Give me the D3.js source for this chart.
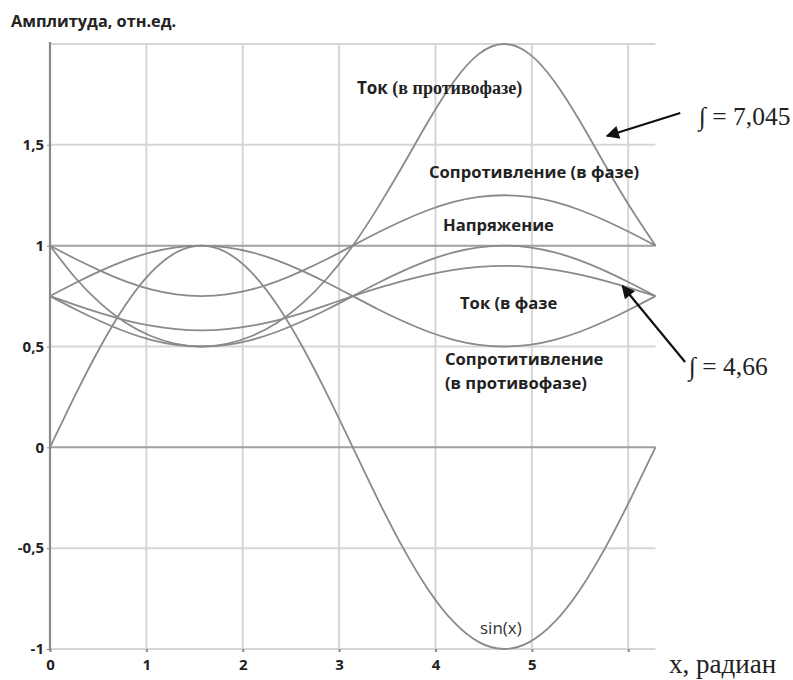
<!DOCTYPE html>
<html>
<head>
<meta charset="utf-8">
<script src="https://cdn.jsdelivr.net/npm/d3@7"></script>
<style>
  html, body { margin: 0; padding: 0; background: #fff; }
  svg { display: block; }
</style>
</head>
<body>
<svg id="chart" width="793" height="680"></svg>
<script>
// Sample points over one period, x in radians (k·π/12)
const xs = [0, 0.262, 0.524, 0.785, 1.047, 1.309, 1.571, 1.833, 2.094, 2.356, 2.618, 2.880,
            3.142, 3.403, 3.665, 3.927, 4.189, 4.451, 4.712, 4.974, 5.236, 5.498, 5.760, 6.021, 6.283];

const sinX = [0, 0.259, 0.5, 0.707, 0.866, 0.966, 1, 0.966, 0.866, 0.707, 0.5, 0.259,
              0, -0.259, -0.5, -0.707, -0.866, -0.966, -1, -0.966, -0.866, -0.707, -0.5, -0.259, 0];

const voltage = [0.75, 0.685, 0.625, 0.573, 0.533, 0.508, 0.5, 0.508, 0.533, 0.573, 0.625, 0.685,
                 0.75, 0.815, 0.875, 0.927, 0.967, 0.992, 1.0, 0.992, 0.967, 0.927, 0.875, 0.815, 0.75];

const resistInPhase = [1.0, 0.935, 0.875, 0.823, 0.783, 0.758, 0.75, 0.758, 0.783, 0.823, 0.875, 0.935,
                       1.0, 1.065, 1.125, 1.177, 1.217, 1.242, 1.25, 1.242, 1.217, 1.177, 1.125, 1.065, 1.0];

const resistAntiPhase = [0.75, 0.815, 0.875, 0.927, 0.967, 0.992, 1.0, 0.992, 0.967, 0.927, 0.875, 0.815,
                         0.75, 0.685, 0.625, 0.573, 0.533, 0.508, 0.5, 0.508, 0.533, 0.573, 0.625, 0.685, 0.75];

const currentAntiPhase = [1.0, 0.841, 0.714, 0.618, 0.552, 0.513, 0.5, 0.513, 0.552, 0.618, 0.714, 0.841,
                          1.0, 1.190, 1.4, 1.618, 1.813, 1.951, 2.0, 1.951, 1.813, 1.618, 1.4, 1.190, 1.0];

const currentInPhase = [0.75, 0.706, 0.665, 0.63, 0.603, 0.586, 0.58, 0.586, 0.603, 0.63, 0.665, 0.706,
                        0.75, 0.789, 0.825, 0.856, 0.880, 0.895, 0.90, 0.895, 0.880, 0.856, 0.825, 0.789, 0.75];

const xTicks = [0, 1, 2, 3, 4, 5, 6];
const xTickLabels = ["0", "1", "2", "3", "4", "5", ""];
const yTicks = [-1, -0.5, 0, 0.5, 1, 1.5];
const yTickLabels = ["-1", "-0,5", "0", "0,5", "1", "1,5"];
const yGrid = [-0.5, 0.5, 1.5, 2];
const yGridStrong = [0, 1];

const integralAnti = "7,045";
const integralIn = "4,66";

const svg = d3.select("#chart");
const plotLeft = 50, plotRight = 655.5, plotTop = 44, plotBottom = 649;

const x = d3.scaleLinear().domain([0, 2 * Math.PI]).range([plotLeft, plotRight]);
const y = d3.scaleLinear().domain([-1, 2]).range([plotBottom, plotTop]);

const grey = "#8a8a8a";
const grid = "#d6d6d6";

// grid
const g = svg.append("g");
g.selectAll("line.vg").data(xTicks.filter(d => d > 0)).join("line")
  .attr("x1", d => x(d)).attr("x2", d => x(d))
  .attr("y1", y(2)).attr("y2", y(-1))
  .attr("stroke", grid).attr("stroke-width", 2);
g.selectAll("line.hg").data(yGrid).join("line")
  .attr("x1", plotLeft).attr("x2", plotRight)
  .attr("y1", d => y(d)).attr("y2", d => y(d))
  .attr("stroke", grid).attr("stroke-width", 2);
g.append("line").attr("x1", plotLeft).attr("x2", plotRight)
  .attr("y1", y(-1)).attr("y2", y(-1))
  .attr("stroke", grid).attr("stroke-width", 2);
g.selectAll("line.hs").data(yGridStrong).join("line")
  .attr("x1", plotLeft).attr("x2", plotRight)
  .attr("y1", d => y(d)).attr("y2", d => y(d))
  .attr("stroke", "#a0a0a0").attr("stroke-width", 2);

const sans = "'Open Sans', sans-serif";
const serif = "'Liberation Serif', 'Times New Roman', serif";

// axes
const yAxis = d3.axisLeft(y).tickValues(yTicks).tickSize(3).tickPadding(3)
  .tickFormat((d, i) => yTickLabels[i]);
const ya = svg.append("g").attr("transform", `translate(${plotLeft},0)`).call(yAxis);
ya.select(".domain").remove();
ya.selectAll(".tick line").attr("stroke", "#888");
ya.selectAll("text").attr("font-family", sans).attr("font-size", 15)
  .attr("font-weight", 700).attr("fill", "#222");
svg.append("line").attr("x1", plotLeft).attr("x2", plotLeft)
  .attr("y1", y(2) - 2).attr("y2", y(-1) + 2)
  .attr("stroke", "#8a8a8a").attr("stroke-width", 2.2);

const xAxis = d3.axisBottom(x).tickValues(xTicks).tickSize(3).tickPadding(7)
  .tickFormat((d, i) => xTickLabels[i]);
const xa = svg.append("g").attr("transform", `translate(0,${plotBottom})`).call(xAxis);
xa.select(".domain").remove();
xa.selectAll(".tick line").attr("stroke", "#888").attr("stroke-width", 2);
xa.selectAll("text").attr("font-family", sans).attr("font-size", 15)
  .attr("font-weight", 700).attr("fill", "#222");

// curves
const series = [sinX, voltage, resistInPhase, resistAntiPhase, currentAntiPhase, currentInPhase];
const line = d3.line().x((d, i) => x(xs[i])).y(d => y(d)).curve(d3.curveNatural);
svg.append("g").selectAll("path").data(series).join("path")
  .attr("d", d => line(d))
  .attr("fill", "none").attr("stroke", grey).attr("stroke-width", 1.8);

// titles and curve labels
svg.append("text").attr("x", 11).attr("y", 27)
  .attr("font-family", sans).attr("font-weight", 700).attr("font-size", 16.3)
  .attr("fill", "#222").text("Амплитуда, отн.ед.");

const t1 = svg.append("text").attr("x", 357).attr("y", 94).attr("fill", "#222");
t1.append("tspan").attr("font-family", sans).attr("font-weight", 700).attr("font-size", 17).text("Ток ");
t1.append("tspan").attr("font-family", serif).attr("font-weight", 700).attr("font-size", 18).text(" (в противофазе)");

const labels = [
  { t: "Сопротивление (в фазе)", x: 429, y: 178 },
  { t: "Напряжение", x: 443, y: 231 },
  { t: "Ток (в фазе", x: 460, y: 309 },
  { t: "Сопротитивление", x: 445, y: 365 },
  { t: "(в противофазе)", x: 445, y: 389 }
];
svg.append("g").selectAll("text").data(labels).join("text")
  .attr("x", d => d.x).attr("y", d => d.y)
  .attr("font-family", sans).attr("font-weight", 700).attr("font-size", 16.6)
  .attr("fill", "#222").text(d => d.t);

svg.append("text").attr("x", 480).attr("y", 634)
  .attr("font-family", sans).attr("font-size", 17).attr("fill", "#333").text("sin(x)");

svg.append("text").attr("x", 669).attr("y", 673)
  .attr("font-family", serif).attr("font-size", 27).attr("fill", "#222").text("x, радиан");

svg.append("text").attr("x", 699).attr("y", 125)
  .attr("font-family", serif).attr("font-size", 25.5).attr("fill", "#222").text("∫ = " + integralAnti);
svg.append("text").attr("x", 689).attr("y", 375)
  .attr("font-family", serif).attr("font-size", 25.5).attr("fill", "#222").text("∫ = " + integralIn);

// arrows pointing at the two current curves
const defs = svg.append("defs");
defs.append("marker").attr("id", "ah").attr("viewBox", "0 0 10 10").attr("refX", 9).attr("refY", 5)
  .attr("markerWidth", 7).attr("markerHeight", 6).attr("orient", "auto")
  .append("path").attr("d", "M0,0 L10,5 L0,10 z").attr("fill", "#111");

const arrows = [
  { from: [6.54, 1.658], to: [5.78, 1.544] },
  { from: [6.59, 0.423], to: [5.94, 0.80] }
];
svg.append("g").selectAll("line").data(arrows).join("line")
  .attr("x1", d => x(d.from[0])).attr("y1", d => y(d.from[1]))
  .attr("x2", d => x(d.to[0])).attr("y2", d => y(d.to[1]))
  .attr("stroke", "#111").attr("stroke-width", 2.2).attr("marker-end", "url(#ah)");
</script>
</body>
</html>
